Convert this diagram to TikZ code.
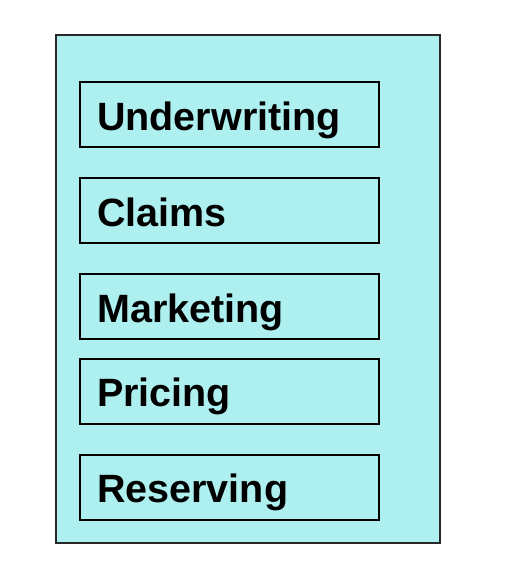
\documentclass[tikz,border=0pt]{standalone}
\usepackage{fontspec}
\setmainfont{Liberation Sans}
\definecolor{boxfill}{RGB}{174,240,240}
\definecolor{outerline}{RGB}{40,40,40}
\begin{document}
\begin{tikzpicture}[x=1pt,y=-1pt,
  areabox/.style={draw=outerline,line width=2pt,fill=boxfill},
  itembox/.style={draw=black,line width=2.4pt,fill=boxfill,rectangle,anchor=north west,
    inner xsep=17pt,inner ysep=0pt,text width=265pt,align=left,
    text height=48pt,text depth=17pt,font=\fontsize{39.5}{39.5}\selectfont\bfseries}]
\useasboundingbox[fill=white] (0,0) rectangle (531,587);
\node[areabox,rectangle,minimum width=384pt,minimum height=508pt,anchor=north west,inner sep=0pt] (area) at (54.5,33.5) {};
\node[itembox] (uw) at (79,81) {Underwriting};
\node[itembox] (cl) at (79,177) {Claims};
\node[itembox] (mk) at (79,273) {Marketing};
\node[itembox] (pr) at (79,357.5) {Pricing};
\node[itembox] (rs) at (79,453.5) {Reserving};
\end{tikzpicture}
\end{document}
